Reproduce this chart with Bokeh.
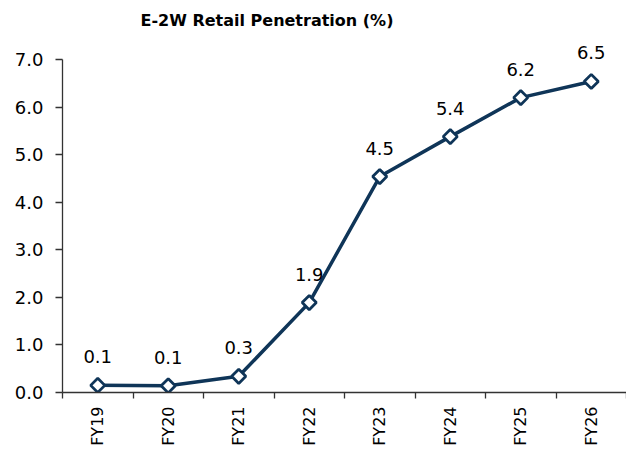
from bokeh.plotting import figure
from bokeh.models import Range1d, ColumnDataSource, FixedTicker, PrintfTickFormatter, LabelSet, Label
from bokeh.core.properties import value
from bokeh.embed import file_html
from bokeh.resources import INLINE

categories = ["FY19", "FY20", "FY21", "FY22", "FY23", "FY24", "FY25", "FY26"]
penetration = [0.15, 0.14, 0.34, 1.89, 4.54, 5.38, 6.20, 6.54]
labels = ["0.1", "0.1", "0.3", "1.9", "4.5", "5.4", "6.2", "6.5"]
y_ticks = [0, 1, 2, 3, 4, 5, 6, 7]
title_text = "E-2W Retail Penetration (%)"

NAVY = "#0f3558"
FONT = "DejaVu Sans"

n = len(categories)
xpos = [i + 0.5 for i in range(n)]          # category centres
bounds_ticks = [float(i) for i in range(n + 1)]  # category boundaries

src = ColumnDataSource(dict(x=xpos, y=penetration, lab=labels))

# y axis drawn 0..7; range extended above so labels/title are not clipped
p = figure(frame_width=564, frame_height=390,
           x_range=Range1d(0, n), y_range=Range1d(0, 8.2),
           output_backend="svg", toolbar_location=None,
           min_border_left=62, min_border_right=0, min_border_top=2, min_border_bottom=56)

p.outline_line_color = None
p.grid.visible = False

p.line("x", "y", source=src, line_color=NAVY, line_width=3.5)
p.scatter("x", "y", source=src, marker="square", angle=0.7854, size=10, fill_color="white",
          line_color=NAVY, line_width=2.8)
p.add_layout(LabelSet(x="x", y="y", text="lab", source=src, text_font=value(FONT),
                      text_font_size="18px", text_align="center", text_baseline="alphabetic",
                      y_offset=22, text_color="#000000"))

p.add_layout(Label(x=1.106, y=7.82, text=title_text, text_font=FONT, text_font_size="16px",
                   text_font_style="bold", text_color="#000000", text_align="left",
                   text_baseline="middle"))

p.yaxis.ticker = FixedTicker(ticks=y_ticks)
p.yaxis.bounds = (0, 7)
p.yaxis.formatter = PrintfTickFormatter(format="%.1f")
p.yaxis.minor_tick_line_color = None
p.yaxis.major_tick_out = 7
p.yaxis.major_tick_in = 0
p.yaxis.major_label_standoff = 12

p.xaxis.ticker = FixedTicker(ticks=xpos, minor_ticks=bounds_ticks)
p.xaxis.major_label_overrides = {x: c for x, c in zip(xpos, categories)}
p.xaxis.major_tick_out = 0
p.xaxis.major_tick_in = 0
p.xaxis.minor_tick_out = 6
p.xaxis.minor_tick_in = 0

for ax in (p.xaxis, p.yaxis):
    ax.axis_line_color = "#333333"
    ax.axis_line_width = 1.3
    ax.major_tick_line_color = "#333333"
    ax.major_tick_line_width = 1.3
    ax.major_label_text_font = FONT
    ax.major_label_text_color = "#000000"

p.xaxis.major_tick_line_color = None
p.xaxis.minor_tick_line_color = "#333333"
p.xaxis.minor_tick_line_width = 1.3

p.yaxis.major_label_text_font_size = "18px"
p.xaxis.major_label_text_font_size = "16px"
p.xaxis.major_label_orientation = 1.5708
p.xaxis.major_label_standoff = 8

open("out.html", "w").write(file_html(p, INLINE))
